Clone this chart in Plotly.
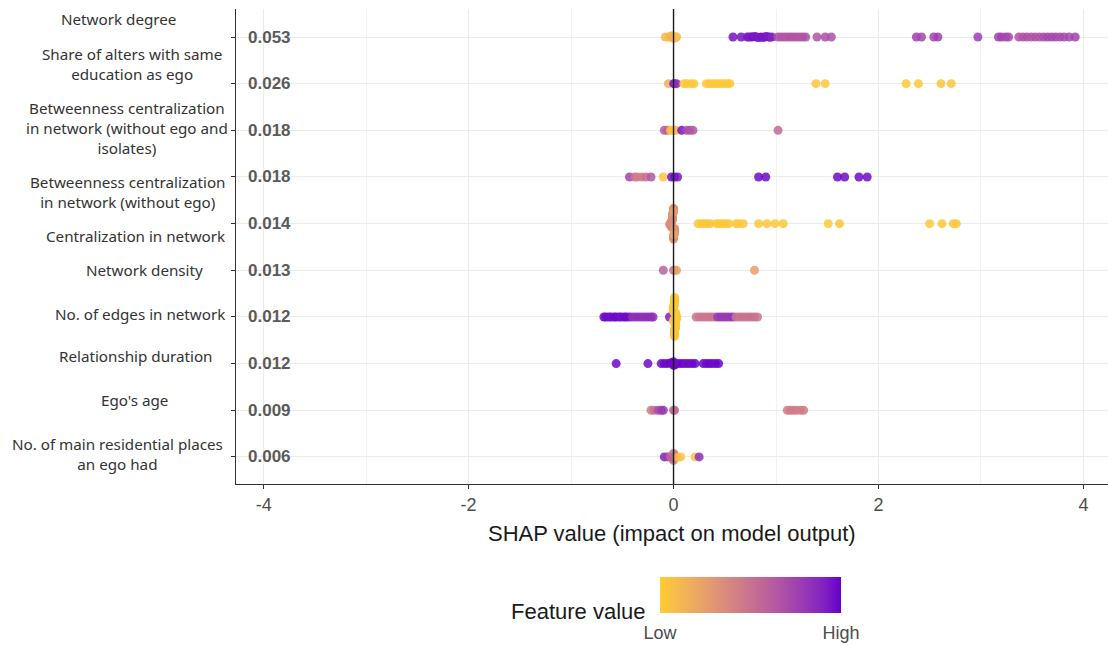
import numpy as np
import plotly.graph_objects as go

# ---------------------------------------------------------------------------
# Data: mean |SHAP| per feature, and per-observation SHAP values with the
# (0-1 scaled) feature value used for colouring.
# ---------------------------------------------------------------------------
features = [
    "Network degree",
    "Share of alters with same<br>education as ego",
    "Betweenness centralization<br>in network (without ego and<br>isolates)",
    "Betweenness centralization<br>in network (without ego)",
    "Centralization in network",
    "Network density",
    "No. of edges in network",
    "Relationship duration",
    "Ego's age",
    "No. of main residential places<br>an ego had",
]
mean_abs_shap = ["0.053", "0.026", "0.018", "0.018", "0.014",
                 "0.013", "0.012", "0.012", "0.009", "0.006"]

x_ticks = [-4, -2, 0, 2, 4]
x_tick_labels = ["-4", "-2", "0", "2", "4"]

shap_degree = [-0.08, -0.05, -0.03, -0.01, 0.00, 0.02, 0.03,
               0.58, 0.66,
               0.72, 0.74, 0.76, 0.78, 0.80, 0.82, 0.84, 0.86, 0.88, 0.90, 0.92, 0.94, 0.96,
               1.02, 1.05, 1.08, 1.11, 1.14, 1.17, 1.20, 1.23, 1.26, 1.29,
               1.40, 1.48, 1.54,
               2.37, 2.42, 2.54, 2.58,
               2.97,
               3.17, 3.20, 3.24, 3.27,
               3.37, 3.41, 3.45, 3.49, 3.53, 3.57, 3.61, 3.65, 3.69, 3.73, 3.77, 3.81, 3.86, 3.92]
feat_degree = [0.12, 0.08, 0.14, 0.10, 0.16, 0.12, 0.08,
               0.95, 0.95,
               0.93, 0.94, 0.92, 0.95, 0.93, 0.94, 0.92, 0.95, 0.93, 0.94, 0.92, 0.93, 0.90,
               0.68, 0.66, 0.67, 0.65, 0.68, 0.66, 0.67, 0.65, 0.66, 0.68,
               0.66, 0.70, 0.68,
               0.76, 0.74, 0.75, 0.77,
               0.78,
               0.74, 0.76, 0.75, 0.73,
               0.68, 0.67, 0.69, 0.66, 0.68, 0.67, 0.70, 0.74, 0.72, 0.74, 0.70, 0.72, 0.73, 0.75]

shap_same_edu = [-0.05, 0.00, 0.01, 0.03,
                 0.10, 0.13, 0.17, 0.20,
                 0.32, 0.35, 0.38, 0.41, 0.44, 0.47, 0.50, 0.53, 0.55,
                 1.39, 1.48, 2.27, 2.39, 2.61, 2.71]
feat_same_edu = [0.15, 0.85, 0.90, 0.85,
                 0.02, 0.03, 0.02, 0.03,
                 0.02, 0.03, 0.02, 0.02, 0.03, 0.02, 0.03, 0.02, 0.02,
                 0.03, 0.03, 0.03, 0.03, 0.03, 0.03]

shap_betw_iso = [-0.09, -0.06, -0.03, -0.01, 0.01, 0.02, 0.08, 0.13, 0.16, 0.19, 1.02]
feat_betw_iso = [0.65, 0.60, 0.05, 0.02, 0.05, 0.10, 0.95, 0.70, 0.68, 0.65, 0.55]

shap_betw = [-0.43, -0.38, -0.35, -0.31, -0.27, -0.22, -0.10, -0.02, 0.01, 0.04,
             0.83, 0.90, 1.60, 1.67, 1.81, 1.89]
feat_betw = [0.75, 0.50, 0.45, 0.45, 0.50, 0.65, 0.05, 0.95, 0.97, 0.93,
             0.97, 0.97, 0.97, 0.97, 0.97, 0.97]

shap_central = [-0.03, -0.02, -0.01, 0.00, 0.01, -0.02, 0.00, -0.01, 0.01, 0.00,
                -0.04, -0.01, 0.00, 0.01, -0.02, 0.00, -0.01, 0.01, 0.00, -0.02,
                -0.01, 0.00, 0.01, 0.00, -0.01, -0.03, 0.00, 0.01, -0.01, 0.00,
                0.24, 0.27, 0.30, 0.33, 0.36, 0.42, 0.45, 0.48, 0.51, 0.54,
                0.61, 0.64, 0.68, 0.83, 0.91, 0.99, 1.07, 1.51, 1.62,
                2.50, 2.62, 2.73, 2.76]
feat_central = [0.20, 0.30, 0.35, 0.25, 0.30, 0.40, 0.35, 0.30, 0.25, 0.40,
                0.30, 0.35, 0.20, 0.30, 0.40, 0.35, 0.25, 0.30, 0.40, 0.35,
                0.30, 0.25, 0.35, 0.40, 0.30, 0.35, 0.25, 0.30, 0.35, 0.20,
                0.03, 0.02, 0.03, 0.02, 0.03, 0.02, 0.03, 0.02, 0.03, 0.02,
                0.03, 0.02, 0.03, 0.02, 0.03, 0.02, 0.03, 0.02, 0.03,
                0.02, 0.03, 0.02, 0.03]

shap_density = [-0.10, 0.00, 0.01, 0.03, 0.79]
feat_density = [0.60, 0.45, 0.40, 0.20, 0.25]

shap_edges = [-0.68, -0.66, -0.63, -0.61, -0.58, -0.56, -0.53, -0.51, -0.48, -0.46, -0.43,
              -0.40, -0.37, -0.34, -0.31, -0.28, -0.25, -0.22, -0.20,
              -0.04,
              0.00, 0.01, 0.02, 0.01, 0.00, 0.02, 0.01, 0.03, 0.00, 0.01,
              0.02, 0.01, 0.00, 0.01, 0.02, 0.01, 0.03, 0.00, 0.01, 0.02,
              0.01, 0.00, 0.02, 0.01, 0.01, 0.02, 0.00, 0.01, 0.03, 0.01,
              0.02, 0.00, 0.01, 0.02, 0.01, 0.01,
              0.22, 0.25, 0.28, 0.31, 0.34, 0.37, 0.40,
              0.43, 0.46, 0.49, 0.52, 0.55, 0.58,
              0.61, 0.64, 0.67, 0.70, 0.73, 0.76, 0.79, 0.82]
feat_edges = [0.97, 0.98, 0.97, 0.96, 0.97, 0.98, 0.97, 0.96, 0.97, 0.98, 0.97,
              0.85, 0.84, 0.86, 0.85, 0.84, 0.86, 0.85, 0.84,
              0.90,
              0.03, 0.04, 0.02, 0.03, 0.05, 0.03, 0.02, 0.04, 0.03, 0.02,
              0.03, 0.04, 0.02, 0.03, 0.05, 0.03, 0.02, 0.04, 0.03, 0.02,
              0.03, 0.04, 0.02, 0.03, 0.05, 0.03, 0.02, 0.04, 0.03, 0.02,
              0.03, 0.04, 0.02, 0.03, 0.05, 0.03,
              0.48, 0.47, 0.49, 0.48, 0.47, 0.49, 0.48,
              0.80, 0.82, 0.79, 0.81, 0.80, 0.82,
              0.50, 0.49, 0.51, 0.50, 0.49, 0.51, 0.50, 0.49]

shap_duration = [-0.56, -0.25, -0.12, -0.09, -0.06, -0.03, -0.01, 0.00, 0.00, 0.01,
                 0.02, 0.03, 0.06, 0.09, 0.12, 0.15, 0.18, 0.21,
                 0.29, 0.32, 0.35, 0.38, 0.41, 0.44]
feat_duration = [0.98, 0.97, 0.96, 0.98, 0.97, 0.99, 0.96, 0.98, 0.97, 0.99,
                 0.96, 0.98, 0.97, 0.99, 0.96, 0.98, 0.97, 0.99,
                 0.98, 0.97, 0.99, 0.98, 0.97, 0.99]

shap_age = [-0.22, -0.19, -0.15, -0.12, -0.10, 0.00, 0.01, 1.11, 1.14, 1.17, 1.20, 1.24, 1.27]
feat_age = [0.45, 0.50, 0.70, 0.75, 0.80, 0.50, 0.55, 0.45, 0.45, 0.45, 0.45, 0.45, 0.45]

shap_places = [-0.09, -0.06, -0.03, 0.00, 0.00, 0.01, -0.01, 0.00, 0.01, 0.00, -0.01,
               0.04, 0.07, 0.21, 0.25]
feat_places = [0.90, 0.80, 0.55, 0.50, 0.30, 0.45, 0.55, 0.40, 0.50, 0.35, 0.60,
               0.10, 0.05, 0.05, 0.85]

shap_rows = [shap_degree, shap_same_edu, shap_betw_iso, shap_betw, shap_central,
             shap_density, shap_edges, shap_duration, shap_age, shap_places]
feat_rows = [feat_degree, feat_same_edu, feat_betw_iso, feat_betw, feat_central,
             feat_density, feat_edges, feat_duration, feat_age, feat_places]

# ---------------------------------------------------------------------------
# Colour scale: ggplot-style gradient from #FFCC33 (low) to #6600CC (high),
# interpolated in CIE Lab space.
# ---------------------------------------------------------------------------
def _hex_to_rgb(h):
    h = h.lstrip("#")
    return [int(h[i:i + 2], 16) / 255 for i in (0, 2, 4)]


def _to_lin(c):
    return c / 12.92 if c <= 0.04045 else ((c + 0.055) / 1.055) ** 2.4


def _from_lin(c):
    c = max(0.0, min(1.0, c))
    return 12.92 * c if c <= 0.0031308 else 1.055 * c ** (1 / 2.4) - 0.055


_WHITE = (0.95047, 1.0, 1.08883)


def _rgb_to_lab(rgb):
    r, g, b = [_to_lin(c) for c in rgb]
    x = 0.4124 * r + 0.3576 * g + 0.1805 * b
    y = 0.2126 * r + 0.7152 * g + 0.0722 * b
    z = 0.0193 * r + 0.1192 * g + 0.9505 * b

    def f(t):
        return t ** (1 / 3) if t > 0.008856 else 7.787 * t + 16 / 116

    fx, fy, fz = f(x / _WHITE[0]), f(y / _WHITE[1]), f(z / _WHITE[2])
    return (116 * fy - 16, 500 * (fx - fy), 200 * (fy - fz))


def _lab_to_rgb(lab):
    L, a, b = lab
    fy = (L + 16) / 116
    fx = fy + a / 500
    fz = fy - b / 200

    def finv(t):
        return t ** 3 if t ** 3 > 0.008856 else (t - 16 / 116) / 7.787

    x, y, z = finv(fx) * _WHITE[0], finv(fy) * _WHITE[1], finv(fz) * _WHITE[2]
    r = 3.2406 * x - 1.5372 * y - 0.4986 * z
    g = -0.9689 * x + 1.8758 * y + 0.0415 * z
    bb = 0.0557 * x - 0.2040 * y + 1.0570 * z
    return [round(_from_lin(c) * 255) for c in (r, g, bb)]


LOW, HIGH = _rgb_to_lab(_hex_to_rgb("#FFCC33")), _rgb_to_lab(_hex_to_rgb("#6600CC"))
colorscale = []
for t in np.linspace(0, 1, 11):
    lab = [LOW[i] + (HIGH[i] - LOW[i]) * t for i in range(3)]
    r, g, b = _lab_to_rgb(lab)
    colorscale.append([float(t), f"rgb({r},{g},{b})"])

# ---------------------------------------------------------------------------
# Sina-style vertical spread: points piling up in one x bin fan out in
# proportion to how many there are; sparse bins stay on the row line.
# ---------------------------------------------------------------------------
BIN = 0.1
N_MIN = 4
N_FULL = 38
MAX_HALF = 0.43

xs, ys, cs = [], [], []
for row, (sv, fv) in enumerate(zip(shap_rows, feat_rows), start=1):
    sv = np.asarray(sv, float)
    bins = np.round(sv / BIN).astype(int)
    offs = np.zeros(len(sv))
    for b in np.unique(bins):
        idx = np.where(bins == b)[0]
        n = len(idx)
        if n > N_MIN:
            hw = MAX_HALF * min(1.0, (n - N_MIN) / (N_FULL - N_MIN))
            spread = np.linspace(-hw, hw, n)
            # points farthest from the pile's centre keep to the row line
            dist = np.abs(sv[idx] - np.median(sv[idx]))
            near_first = idx[np.argsort(dist, kind="stable")]
            outer_first = spread[np.argsort(-np.abs(spread), kind="stable")]
            offs[near_first] = outer_first
    xs.extend(sv.tolist())
    ys.extend((row + offs).tolist())
    cs.extend(fv)

# ---------------------------------------------------------------------------
# Figure geometry (pixels)
# ---------------------------------------------------------------------------
W, H = 1108, 646
PL, PT, PB = 236, 9, 484
PW, PH = W - PL, PB - PT


def px_x(px):
    return (px - PL) / PW


def px_y(py):
    return (PB - py) / PH


fig = go.Figure()
fig.add_trace(go.Scatter(
    x=xs, y=ys, mode="markers",
    marker=dict(
        size=9, color=cs, cmin=0, cmax=1, colorscale=colorscale, opacity=0.85,
        line=dict(width=0),
        colorbar=dict(
            orientation="h", thickness=36, len=181, lenmode="pixels",
            x=px_x(750.5), xanchor="center", xref="paper",
            y=px_y(577), yanchor="top", yref="paper",
            tickvals=[0, 1], ticktext=["Low", "High"],
            ticks="outside", ticklen=5, tickcolor="rgba(0,0,0,0)",
            tickfont=dict(family="Liberation Sans, Arial", size=18, color="#4D4D4D"),
            outlinewidth=0, ypad=0, xpad=0,
        ),
    ),
    hoverinfo="skip", showlegend=False,
))

fig.add_shape(type="line", xref="x", yref="paper", x0=0, x1=0, y0=0, y1=1,
              line=dict(color="#1a1a1a", width=1.4), layer="above")

annotations = []
for i, val in enumerate(mean_abs_shap, start=1):
    annotations.append(dict(
        xref="paper", yref="y", x=0, y=i, xshift=10, xanchor="left", yanchor="middle",
        text=f"<b>{val}</b>", showarrow=False,
        font=dict(family="Liberation Sans, Arial", size=17, color="#5a5a5a"),
    ))

# feature name placement (centre x, centre y) in pixels
name_pos = [(118, 19), (132, 64), (127, 128), (128, 192), (135, 236),
             (144, 270), (140, 314), (136, 356), (134, 400), (117, 454)]
for name, (cx, cy) in zip(features, name_pos):
    annotations.append(dict(
        xref="paper", yref="paper", x=px_x(cx), y=px_y(cy),
        xanchor="center", yanchor="middle", align="center",
        text=name, showarrow=False,
        font=dict(family="Noto Sans", size=15.2, color="#333333"),
    ))

annotations.append(dict(
    xref="paper", yref="paper", x=0.5, y=px_y(533), xanchor="center", yanchor="middle",
    text="SHAP value (impact on model output)", showarrow=False,
    font=dict(family="Liberation Sans, Arial", size=22, color="#1a1a1a"),
))
annotations.append(dict(
    xref="paper", yref="paper", x=px_x(648), y=px_y(611), xanchor="right", yanchor="middle",
    text="Feature value", showarrow=False,
    font=dict(family="Liberation Sans, Arial", size=22, color="#1a1a1a"),
))

fig.update_layout(
    width=W, height=H,
    margin=dict(l=PL, r=0, t=PT, b=H - PB, pad=0),
    paper_bgcolor="white", plot_bgcolor="white",
    annotations=annotations,
    xaxis=dict(
        range=[-4.27, 4.24], tickvals=x_ticks, ticktext=x_tick_labels,
        ticks="outside", ticklen=4, tickcolor="#333333", tickwidth=1,
        showline=True, linecolor="#333333", linewidth=1.2,
        showgrid=True, gridcolor="#EBEBEB", gridwidth=1,
        minor=dict(tickvals=[-3, -1, 1, 3], showgrid=True, gridcolor="#F2F2F2", gridwidth=1),
        zeroline=False,
        tickfont=dict(family="Liberation Sans, Arial", size=18, color="#4D4D4D"),
    ),
    yaxis=dict(
        range=[10.58, 0.4], tickvals=list(range(1, 11)), showticklabels=False,
        ticks="outside", ticklen=4, tickcolor="#333333", tickwidth=1,
        showline=True, linecolor="#333333", linewidth=1.2,
        showgrid=True, gridcolor="#EBEBEB", gridwidth=1,
        zeroline=False,
    ),
)

fig.write_html("out.html")
